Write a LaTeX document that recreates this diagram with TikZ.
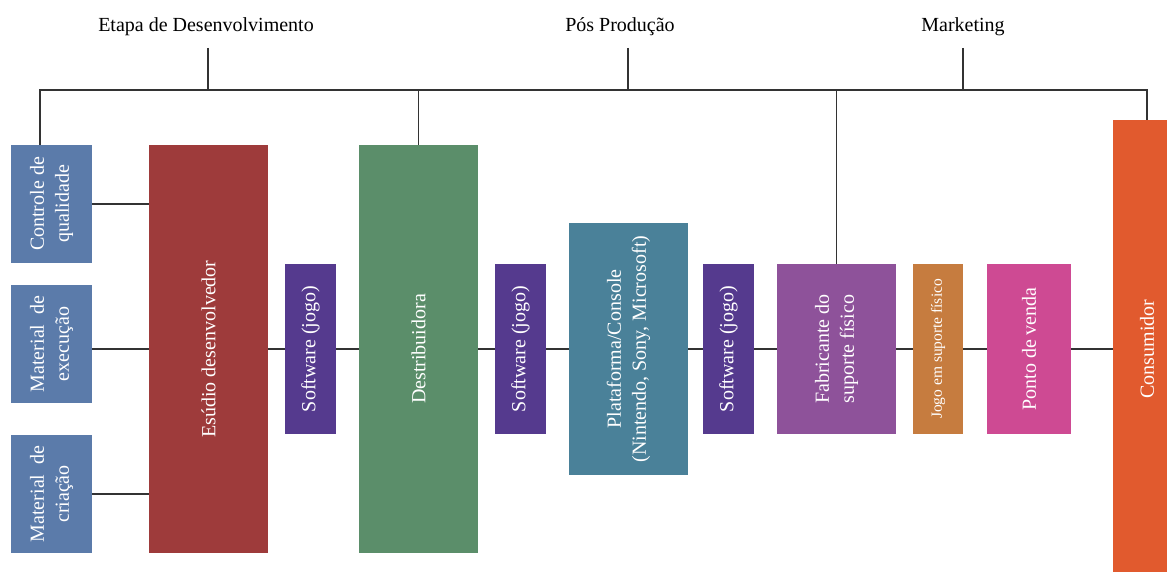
\documentclass[tikz,border=0pt]{standalone}
\usepackage{fontspec}
\setmainfont{Liberation Serif}
\usetikzlibrary{backgrounds}

\definecolor{azul}{HTML}{5B7BAA}
\definecolor{vinho}{HTML}{9E3B3B}
\definecolor{roxo}{HTML}{553A8E}
\definecolor{verde}{HTML}{5B8E6A}
\definecolor{petroleo}{HTML}{4A8199}
\definecolor{violeta}{HTML}{8E529A}
\definecolor{cobre}{HTML}{C67C3F}
\definecolor{rosa}{HTML}{CE4A93}
\definecolor{laranja}{HTML}{E15A2E}

\tikzset{
  caixa/.style={rectangle, inner sep=2pt, rotate=90, align=center, text=white,
                font=\fontsize{20}{25}\selectfont},
  etapa/.style={font=\fontsize{20}{24}\selectfont},
  liga/.style={line width=1.2pt, draw=black!80}
}

\begin{document}
\begin{tikzpicture}[x=1pt,y=-1pt]
        \useasboundingbox (0,0) rectangle (1167,572);

        \node[etapa] (desenv) at (206,27) {Etapa de Desenvolvimento};
        \node[etapa] (posprod) at (620,27) {Pós Produção};
        \node[etapa] (marketing) at (963,27) {Marketing};

        \node[caixa, fill=azul, minimum width=118, minimum height=81] (controle) at (51.5,204) {Controle de\\qualidade};
        \node[caixa, fill=azul, minimum width=118, minimum height=81] (execucao) at (51.5,344) {Material\ \ de\\execução};
        \node[caixa, fill=azul, minimum width=118, minimum height=81] (criacao) at (51.5,494) {Material\ \ de\\criação};

        \node[caixa, fill=vinho, minimum width=408, minimum height=119] (estudio) at (208.5,349) {Esúdio desenvolvedor};
        \node[caixa, fill=roxo, minimum width=170, minimum height=51] (soft1) at (310.5,349) {Software (jogo)};
        \node[caixa, fill=verde, minimum width=408, minimum height=119] (distrib) at (418.5,349) {Destribuidora};
        \node[caixa, fill=roxo, minimum width=170, minimum height=51] (soft2) at (520.5,349) {Software (jogo)};
        \node[caixa, fill=petroleo, minimum width=251, minimum height=119] (plataforma) at (628.5,349) {Plataforma/Console\\(Nintendo, Sony, Microsoft)};
        \node[caixa, fill=roxo, minimum width=170, minimum height=51] (soft3) at (728.5,349) {Software (jogo)};
        \node[caixa, fill=violeta, minimum width=170, minimum height=119] (fabricante) at (836.5,349) {Fabricante do\\suporte físico};
        \node[caixa, fill=cobre, minimum width=170, minimum height=50, font=\fontsize{15.5}{18}\selectfont] (jogo) at (938,349) {Jogo em suporte físico};
        \node[caixa, fill=rosa, minimum width=170, minimum height=84] (ponto) at (1029,349) {Ponto de venda};
        \node[caixa, fill=laranja, minimum width=458, minimum height=68] (consumidor) at (1147,349) {Consumidor};

        \coordinate (barra) at (40,90);
        \coordinate (hasteD) at (208,48);
        \coordinate (hasteP) at (628,48);
        \coordinate (hasteM) at (963,48);

        \begin{scope}[on background layer]
        \draw[liga] (hasteD) -- (hasteD |- barra);
        \draw[liga] (hasteP) -- (hasteP |- barra);
        \draw[liga] (hasteM) -- (hasteM |- barra);
        \draw[liga] (barra |- controle) -- (barra) -- (consumidor |- barra) -- (consumidor);
        \draw[liga] (distrib |- barra) -- (distrib);
        \draw[liga] (fabricante |- barra) -- (fabricante);

        \draw[liga] (controle) -- (controle -| estudio);
        \draw[liga] (execucao |- estudio) -- (estudio);
        \draw[liga] (criacao) -- (criacao -| estudio);

        \draw[liga] (estudio) -- (soft1) -- (distrib) -- (soft2) -- (plataforma)
                    -- (soft3) -- (fabricante) -- (jogo) -- (ponto) -- (consumidor);
        \end{scope}
        %\draw[help lines] (0,0) grid[step=50] (1167,572);
\end{tikzpicture}
\end{document}
